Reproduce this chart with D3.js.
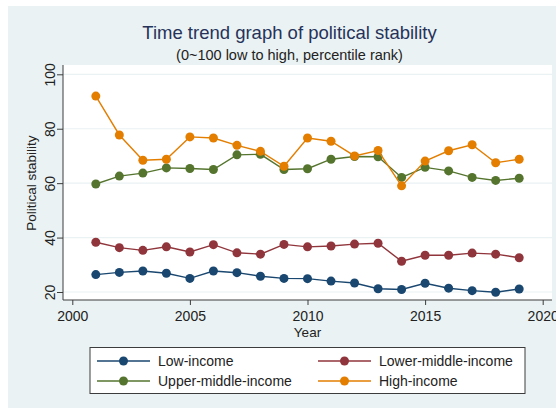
<!DOCTYPE html>
<html>
<head>
<meta charset="utf-8">
<script src="https://cdn.jsdelivr.net/npm/d3@7"></script>
<style>
  body { margin: 0; background: white; }
  svg text { font-family: "Liberation Sans", Arial, Helvetica, sans-serif; }
</style>
</head>
<body>
<svg id="chart" width="556" height="408"></svg>
<script>
// data
const years = [2001, 2002, 2003, 2004, 2005, 2006, 2007, 2008, 2009, 2010,
               2011, 2012, 2013, 2014, 2015, 2016, 2017, 2018, 2019];
const lowIncome = [26.4, 27.2, 27.7, 26.9, 25.0, 27.7, 27.1, 25.8, 25.0, 24.9,
                   24.0, 23.3, 21.2, 20.9, 23.2, 21.4, 20.5, 19.9, 21.1];
const lowerMiddle = [38.3, 36.3, 35.3, 36.6, 34.7, 37.4, 34.4, 33.9, 37.5, 36.6,
                     36.9, 37.6, 37.9, 31.3, 33.5, 33.5, 34.3, 33.9, 32.6];
const upperMiddle = [59.7, 62.6, 63.7, 65.6, 65.4, 65.0, 70.4, 70.6, 65.0, 65.3,
                     68.8, 69.8, 69.7, 62.1, 65.8, 64.5, 62.1, 61.0, 61.8];
const highIncome = [92.0, 77.7, 68.4, 68.8, 77.0, 76.6, 73.9, 71.7, 66.2, 76.6,
                    75.4, 70.0, 72.0, 59.0, 68.1, 71.9, 74.1, 67.5, 68.8];
const seriesNames = ["Low-income", "Lower-middle-income", "Upper-middle-income", "High-income"];
const xTicks = [2000, 2005, 2010, 2015, 2020];
const yTicks = [20, 40, 60, 80, 100];

const colors = ["#1a476f", "#90353b", "#55752f", "#e37e00"];
const seriesData = [lowIncome, lowerMiddle, upperMiddle, highIncome];

const svg = d3.select("#chart");
const bg = "#eaf2f3";

// graph region
svg.append("rect").attr("x", 8).attr("y", 6).attr("width", 548).attr("height", 402).attr("fill", bg);

// plot region
const plot = {left: 63, top: 65, right: 552, bottom: 300};
svg.append("rect")
  .attr("x", plot.left).attr("y", plot.top)
  .attr("width", plot.right - plot.left).attr("height", plot.bottom - plot.top)
  .attr("fill", "white");

const x = d3.scaleLinear().domain([2000, 2020]).range([72.3, 542.7]);
const y = d3.scaleLinear().domain([20, 100]).range([292, 74.3]);

// grid lines
svg.append("g").selectAll("line").data(yTicks).enter().append("line")
  .attr("x1", plot.left).attr("x2", plot.right)
  .attr("y1", d => y(d)).attr("y2", d => y(d))
  .attr("stroke", bg).attr("stroke-width", 1.2);

// y axis
const yAxis = svg.append("g").attr("transform", `translate(${plot.left},0)`)
  .call(d3.axisLeft(y).tickValues(yTicks).tickSize(6).tickPadding(4).tickFormat(d3.format("d")));
yAxis.select(".domain").attr("d", `M0,${plot.top}V${plot.bottom}`).attr("stroke", "#3c3c3c");
yAxis.selectAll(".tick line").attr("stroke", "#3c3c3c");
yAxis.selectAll(".tick text")
  .attr("font-size", 14).attr("fill", "#222")
  .attr("x", null).attr("dy", null)
  .attr("text-anchor", "middle")
  .attr("transform", "translate(-13,0) rotate(-90)")
  .attr("dy", "0.35em");

// x axis
const xAxis = svg.append("g").attr("transform", `translate(0,${plot.bottom})`)
  .call(d3.axisBottom(x).tickValues(xTicks).tickSize(5).tickPadding(6).tickFormat(d3.format("d")));
xAxis.select(".domain").attr("d", `M${plot.left},0H${plot.right}`).attr("stroke", "#3c3c3c");
xAxis.selectAll(".tick line").attr("stroke", "#3c3c3c");
xAxis.selectAll(".tick text").attr("font-size", 14).attr("fill", "#222");

// axis titles
svg.append("text").attr("x", x(2010)).attr("y", 337)
  .attr("text-anchor", "middle").attr("font-size", 13.5).attr("fill", "#222").text("Year");
svg.append("text")
  .attr("transform", `translate(36,${y(60)}) rotate(-90)`)
  .attr("text-anchor", "middle").attr("font-size", 13.5).attr("fill", "#222")
  .text("Political stability");

// titles
svg.append("text").attr("x", 289.5).attr("y", 39)
  .attr("text-anchor", "middle").attr("font-size", 18.5).attr("fill", "#26325a")
  .text("Time trend graph of political stability");
svg.append("text").attr("x", 289.5).attr("y", 60)
  .attr("text-anchor", "middle").attr("font-size", 14.5).attr("fill", "#222")
  .text("(0~100 low to high, percentile rank)");

// series
const line = d3.line().x((d, i) => x(years[i])).y(d => y(d));
seriesData.forEach((vals, k) => {
  const g = svg.append("g");
  g.append("path").datum(vals)
    .attr("d", line).attr("fill", "none")
    .attr("stroke", colors[k]).attr("stroke-width", 1.4);
  g.selectAll("circle").data(vals).enter().append("circle")
    .attr("cx", (d, i) => x(years[i])).attr("cy", d => y(d))
    .attr("r", 4.5).attr("fill", colors[k]);
});

// legend
svg.append("rect").attr("x", 90).attr("y", 347.5).attr("width", 435).attr("height", 46)
  .attr("fill", "white").attr("stroke", "#3c3c3c").attr("stroke-width", 1);
const legPos = [[97, 361], [318, 361], [97, 381], [318, 381]];
seriesNames.forEach((name, k) => {
  const [lx, ly] = legPos[k];
  svg.append("line").attr("x1", lx).attr("x2", lx + 53).attr("y1", ly).attr("y2", ly)
    .attr("stroke", colors[k]).attr("stroke-width", 1.4);
  svg.append("circle").attr("cx", lx + 26.5).attr("cy", ly).attr("r", 4.5).attr("fill", colors[k]);
  svg.append("text").attr("x", lx + 61).attr("y", ly).attr("dy", "0.35em")
    .attr("font-size", 14).attr("fill", "#222").text(name);
});
</script>
</body>
</html>
